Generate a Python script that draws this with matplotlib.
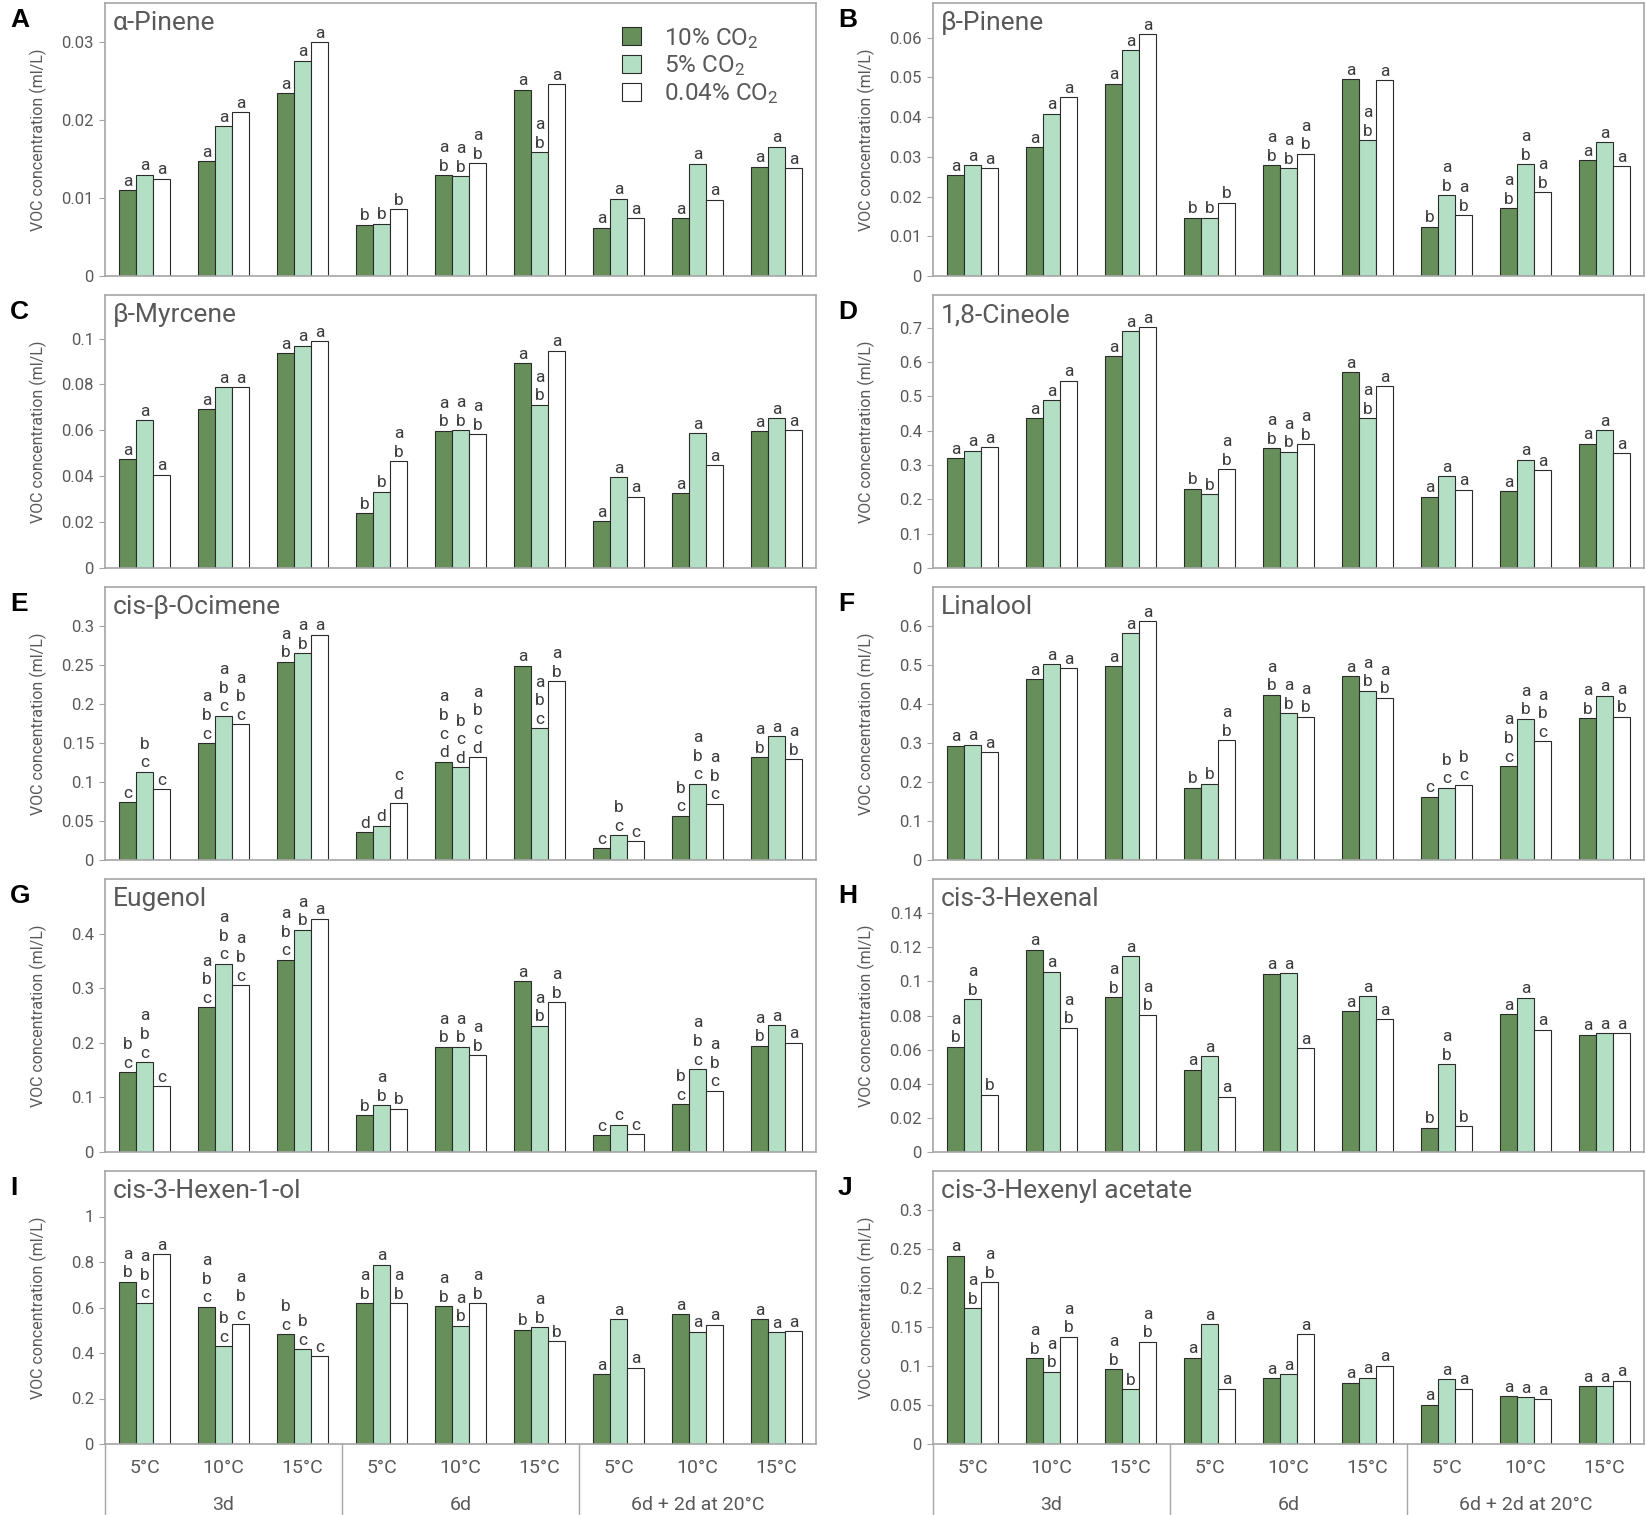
import matplotlib
matplotlib.use("Agg")
import matplotlib.pyplot as plt
from matplotlib.patches import Patch
from matplotlib.ticker import FuncFormatter
import numpy as np

plt.rcParams["font.family"] = ["Roboto", "DejaVu Sans"]
plt.rcParams["mathtext.fontset"] = "custom"
plt.rcParams["mathtext.rm"] = "Roboto"
plt.rcParams["mathtext.it"] = "Roboto"

# --- data (VOC concentration, ml/L), one row per CO2 level: 10%, 5%, 0.04% ---
treatments = ["10% CO$_2$", "5% CO$_2$", "0.04% CO$_2$"]
temp_labels = ["5°C", "10°C", "15°C", "5°C", "10°C", "15°C", "5°C", "10°C", "15°C"]
time_labels = ["3d", "6d", "6d + 2d at 20°C"]

alpha_pinene = [
    [0.0110, 0.0147, 0.0234, 0.0066, 0.0129, 0.0239, 0.0062, 0.0074, 0.0140],
    [0.0130, 0.0192, 0.0276, 0.0067, 0.0128, 0.0159, 0.0099, 0.0144, 0.0166],
    [0.0125, 0.0210, 0.0300, 0.0086, 0.0145, 0.0246, 0.0074, 0.0098, 0.0138],
]
alpha_pinene_letters = [
    ["a", "a", "a", "b", "ab", "a", "a", "a", "a"],
    ["a", "a", "a", "b", "ab", "ab", "a", "a", "a"],
    ["a", "a", "a", "b", "ab", "a", "a", "a", "a"],
]
beta_pinene = [
    [0.0253, 0.0324, 0.0484, 0.0147, 0.0279, 0.0495, 0.0124, 0.0171, 0.0292],
    [0.0279, 0.0408, 0.0568, 0.0147, 0.0271, 0.0342, 0.0203, 0.0282, 0.0337],
    [0.0271, 0.0450, 0.0608, 0.0184, 0.0308, 0.0492, 0.0153, 0.0211, 0.0276],
]
beta_pinene_letters = [
    ["a", "a", "a", "b", "ab", "a", "b", "ab", "a"],
    ["a", "a", "a", "b", "ab", "ab", "ab", "ab", "a"],
    ["a", "a", "a", "b", "ab", "a", "ab", "ab", "a"],
]
beta_myrcene = [
    [0.0474, 0.0692, 0.0937, 0.0239, 0.0598, 0.0892, 0.0204, 0.0326, 0.0596],
    [0.0643, 0.0787, 0.0969, 0.0333, 0.0601, 0.0711, 0.0397, 0.0588, 0.0653],
    [0.0407, 0.0787, 0.0989, 0.0465, 0.0583, 0.0947, 0.0310, 0.0447, 0.0600],
]
beta_myrcene_letters = [
    ["a", "a", "a", "b", "ab", "a", "a", "a", "a"],
    ["a", "a", "a", "b", "ab", "ab", "a", "a", "a"],
    ["a", "a", "a", "ab", "ab", "a", "a", "a", "a"],
]
cineole = [
    [0.320, 0.436, 0.617, 0.231, 0.348, 0.570, 0.208, 0.223, 0.362],
    [0.342, 0.488, 0.690, 0.215, 0.339, 0.436, 0.267, 0.315, 0.402],
    [0.351, 0.546, 0.701, 0.287, 0.361, 0.530, 0.228, 0.285, 0.334],
]
cineole_letters = [
    ["a", "a", "a", "b", "ab", "a", "a", "a", "a"],
    ["a", "a", "a", "b", "ab", "ab", "a", "a", "a"],
    ["a", "a", "a", "ab", "ab", "a", "a", "a", "a"],
]
ocimene = [
    [0.074, 0.150, 0.254, 0.036, 0.126, 0.249, 0.015, 0.057, 0.132],
    [0.113, 0.185, 0.265, 0.044, 0.119, 0.169, 0.032, 0.098, 0.159],
    [0.091, 0.174, 0.289, 0.073, 0.132, 0.229, 0.024, 0.072, 0.129],
]
ocimene_letters = [
    ["c", "abc", "ab", "d", "abcd", "a", "c", "bc", "ab"],
    ["bc", "abc", "ab", "d", "bcd", "abc", "bc", "abc", "a"],
    ["c", "abc", "a", "cd", "abcd", "ab", "c", "abc", "ab"],
]
linalool = [
    [0.293, 0.464, 0.497, 0.185, 0.424, 0.472, 0.162, 0.241, 0.364],
    [0.296, 0.502, 0.581, 0.196, 0.376, 0.434, 0.185, 0.362, 0.421],
    [0.277, 0.492, 0.612, 0.307, 0.367, 0.416, 0.193, 0.304, 0.367],
]
linalool_letters = [
    ["a", "a", "a", "b", "ab", "a", "c", "abc", "ab"],
    ["a", "a", "a", "b", "ab", "ab", "bc", "ab", "a"],
    ["a", "a", "a", "ab", "ab", "ab", "bc", "abc", "ab"],
]
eugenol = [
    [0.146, 0.265, 0.352, 0.067, 0.193, 0.313, 0.031, 0.087, 0.195],
    [0.165, 0.345, 0.407, 0.086, 0.193, 0.231, 0.050, 0.152, 0.232],
    [0.120, 0.306, 0.427, 0.079, 0.177, 0.274, 0.033, 0.112, 0.200],
]
eugenol_letters = [
    ["bc", "abc", "abc", "b", "ab", "a", "c", "bc", "ab"],
    ["abc", "abc", "ab", "ab", "ab", "ab", "c", "abc", "a"],
    ["c", "abc", "a", "b", "ab", "ab", "c", "abc", "a"],
]
hexenal = [
    [0.0617, 0.1186, 0.0907, 0.0483, 0.1044, 0.0824, 0.0142, 0.0806, 0.0687],
    [0.0894, 0.1057, 0.1147, 0.0563, 0.1048, 0.0913, 0.0516, 0.0904, 0.0695],
    [0.0335, 0.0728, 0.0804, 0.0323, 0.0610, 0.0777, 0.0150, 0.0717, 0.0698],
]
hexenal_letters = [
    ["ab", "a", "ab", "a", "a", "a", "b", "a", "a"],
    ["ab", "a", "a", "a", "a", "a", "ab", "a", "a"],
    ["b", "ab", "ab", "a", "a", "a", "b", "a", "a"],
]
hexenol = [
    [0.713, 0.603, 0.483, 0.619, 0.606, 0.502, 0.308, 0.570, 0.549],
    [0.621, 0.430, 0.417, 0.788, 0.520, 0.514, 0.548, 0.493, 0.492],
    [0.835, 0.527, 0.386, 0.619, 0.619, 0.452, 0.336, 0.524, 0.496],
]
hexenol_letters = [
    ["ab", "abc", "bc", "ab", "ab", "b", "a", "a", "a"],
    ["abc", "bc", "bc", "a", "ab", "ab", "a", "a", "a"],
    ["a", "abc", "c", "ab", "ab", "b", "a", "a", "a"],
]
hexenyl_acetate = [
    [0.2416, 0.1097, 0.0960, 0.1106, 0.0840, 0.0788, 0.0505, 0.0612, 0.0743],
    [0.1738, 0.0926, 0.0702, 0.1536, 0.0896, 0.0848, 0.0831, 0.0600, 0.0743],
    [0.2073, 0.1377, 0.1312, 0.0711, 0.1407, 0.1003, 0.0707, 0.0574, 0.0810],
]
hexenyl_acetate_letters = [
    ["a", "ab", "ab", "a", "a", "a", "a", "a", "a"],
    ["ab", "ab", "b", "a", "a", "a", "a", "a", "a"],
    ["ab", "ab", "ab", "a", "a", "a", "a", "a", "a"],
]

panels = [
    ("A", "α-Pinene", alpha_pinene, alpha_pinene_letters, [0, 0.01, 0.02, 0.03], 0.035),
    ("B", "β-Pinene", beta_pinene, beta_pinene_letters, [0, 0.01, 0.02, 0.03, 0.04, 0.05, 0.06], 0.0687),
    ("C", "β-Myrcene", beta_myrcene, beta_myrcene_letters, [0, 0.02, 0.04, 0.06, 0.08, 0.1], 0.119),
    ("D", "1,8-Cineole", cineole, cineole_letters, [0, 0.1, 0.2, 0.3, 0.4, 0.5, 0.6, 0.7], 0.795),
    ("E", "cis-β-Ocimene", ocimene, ocimene_letters, [0, 0.05, 0.1, 0.15, 0.2, 0.25, 0.3], 0.35),
    ("F", "Linalool", linalool, linalool_letters, [0, 0.1, 0.2, 0.3, 0.4, 0.5, 0.6], 0.70),
    ("G", "Eugenol", eugenol, eugenol_letters, [0, 0.1, 0.2, 0.3, 0.4], 0.5),
    ("H", "cis-3-Hexenal", hexenal, hexenal_letters, [0, 0.02, 0.04, 0.06, 0.08, 0.1, 0.12, 0.14], 0.16),
    ("I", "cis-3-Hexen-1-ol", hexenol, hexenol_letters, [0, 0.2, 0.4, 0.6, 0.8, 1], 1.2),
    ("J", "cis-3-Hexenyl acetate", hexenyl_acetate, hexenyl_acetate_letters, [0, 0.05, 0.1, 0.15, 0.2, 0.25, 0.3], 0.35),
]

# --- style ---
FILL = ["#678F5A", "#B3E0C4", "#FFFFFF"]
EDGE = "#2b2b2b"
FRAME = "#A6A6A6"
TEXT = "#595959"
LETTER = "#3c3c3c"

FIG_W, FIG_H = 1646, 1515
COL_LEFT = [105, 933]
AX_W = 711
ROW_TOP = [3, 295, 587, 879, 1171]
AX_H = 273
BAR_W = 0.213
LETTER_STEP = 13.4  # points between stacked letters


def fmt(v, _pos):
    return "0" if abs(v) < 1e-12 else f"{v:g}"


fig = plt.figure(figsize=(FIG_W / 100, FIG_H / 100), dpi=100)

for i, (tag, name, vals, letters, ticks, ymax) in enumerate(panels):
    row, col = divmod(i, 2)
    left = COL_LEFT[col]
    top = ROW_TOP[row]
    ax = fig.add_axes([left / FIG_W, 1 - (top + AX_H) / FIG_H, AX_W / FIG_W, AX_H / FIG_H])
    x = np.arange(len(temp_labels))
    for k in range(3):
        xs = x + (k - 1) * BAR_W
        ax.bar(xs, vals[k], width=BAR_W, color=FILL[k], edgecolor=EDGE, linewidth=0.8, zorder=2)
        for xi, v, lab in zip(xs, vals[k], letters[k]):
            # stack the letters: last letter sits on the bar, 'a' on top
            for j, ch in enumerate(reversed(lab)):
                ax.annotate(ch, xy=(xi, v), xytext=(0, 1 + j * LETTER_STEP),
                            textcoords="offset points", ha="center", va="bottom",
                            fontsize=12.5, color=LETTER)

    ax.set_xlim(-0.5, len(temp_labels) - 0.5)
    ax.set_ylim(0, ymax)
    ax.set_yticks(ticks)
    ax.yaxis.set_major_formatter(FuncFormatter(fmt))
    ax.set_xticks([])
    ax.tick_params(axis="y", direction="out", length=4, width=0.8, color=FRAME,
                   labelsize=12, labelcolor=TEXT, pad=4)
    for sp in ax.spines.values():
        sp.set_color(FRAME)
        sp.set_linewidth(1.2)
    ax.set_ylabel("VOC concentration (ml/L)", fontsize=11.5, color=TEXT)
    ax.yaxis.set_label_coords(-58 / AX_W, 0.5)
    ax.text(0.011, 0.925, name, transform=ax.transAxes, fontsize=19, color=TEXT,
            ha="left", va="center")

    fig.text((left - 95) / FIG_W, 1 - (top + 17) / FIG_H, tag, fontsize=19, fontweight="bold",
             family=["Liberation Sans", "DejaVu Sans"], color="black", ha="left", va="center")

    if i == 0:
        handles = [Patch(facecolor=FILL[k], edgecolor=EDGE, linewidth=0.8) for k in range(3)]
        ax.legend(handles, treatments, loc="upper left", bbox_to_anchor=(0.7275, 0.917),
                  frameon=False, fontsize=17.5, handlelength=0.78, handleheight=0.78,
                  handletextpad=0.95, labelspacing=0.12, borderpad=0, borderaxespad=0,
                  labelcolor=TEXT)

    if row == 4:
        tr = ax.get_xaxis_transform()
        for xi, lab in enumerate(temp_labels):
            ax.text(xi, -24 / AX_H, lab, transform=tr, ha="center", va="center",
                    fontsize=14, color=TEXT)
        for g, lab in enumerate(time_labels):
            ax.text(g * 3 + 1, -61 / AX_H, lab, transform=tr, ha="center", va="center",
                    fontsize=14, color=TEXT)
        for xb in [-0.5, 2.5, 5.5]:
            ax.plot([xb, xb], [0, -(FIG_H - top - AX_H) / AX_H], transform=tr,
                    color=FRAME, linewidth=1.0, clip_on=False)

fig.savefig("out.png", dpi=100)
